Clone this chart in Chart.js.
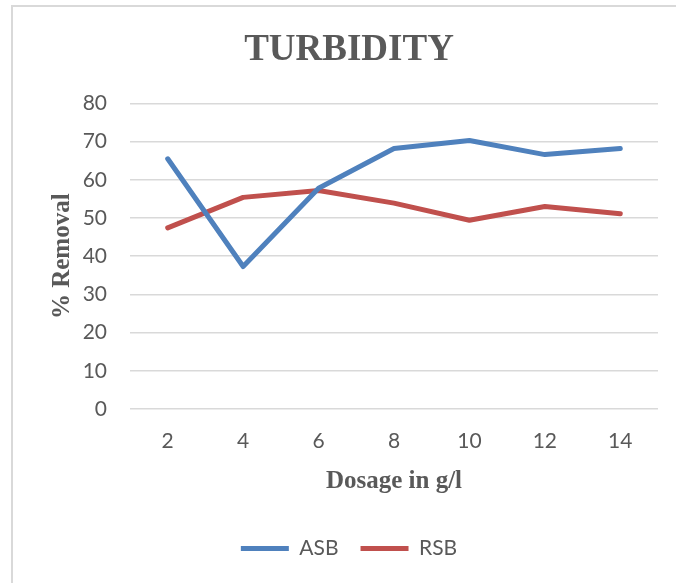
<!DOCTYPE html>
<html>
<head>
<meta charset="utf-8">
<script src="https://cdn.jsdelivr.net/npm/chart.js@4.4.0/dist/chart.umd.min.js"></script>
<style>
  html, body { margin: 0; padding: 0; background: #fff; }
  #wrap { position: relative; width: 676px; height: 583px; overflow: hidden; }
  #frame { position: absolute; left: 11px; top: 5px; width: 700px; height: 600px; border: 2px solid #D9D9D9; box-sizing: border-box; }
  canvas { position: absolute; left: 0; top: 0; }
</style>
</head>
<body>
<div id="wrap">
  <div id="frame"></div>
  <canvas id="c" width="676" height="583"></canvas>
</div>
<script>
const categories = ['2', '4', '6', '8', '10', '12', '14'];
const asbValues = [65.5, 37.3, 57.8, 68.2, 70.3, 66.6, 68.2];
const rsbValues = [47.4, 55.4, 57.2, 53.9, 49.4, 53.0, 51.1];
const seriesNames = ['ASB', 'RSB'];
const chartTitle = 'TURBIDITY';
const xTitle = 'Dosage in g/l';
const yTitle = '% Removal';

const textColor = '#595959';
const sansFont = "Lato, 'Liberation Sans', sans-serif";
const serifFont = "'Liberation Serif', 'Times New Roman', serif";

new Chart(document.getElementById('c'), {
  type: 'line',
  data: {
    labels: categories,
    datasets: [
      { label: seriesNames[0], data: asbValues, borderColor: '#4F81BD', backgroundColor: '#4F81BD',
        borderWidth: 5, pointRadius: 0, borderCapStyle: 'round', borderJoinStyle: 'round', tension: 0 },
      { label: seriesNames[1], data: rsbValues, borderColor: '#C0504D', backgroundColor: '#C0504D',
        borderWidth: 5, pointRadius: 0, borderCapStyle: 'round', borderJoinStyle: 'round', tension: 0 }
    ]
  },
  options: {
    responsive: false,
    animation: false,
    layout: { padding: { left: 40, right: 18, top: 0, bottom: 14 } },
    plugins: {
      title: {
        display: true, text: chartTitle, color: textColor,
        font: { family: serifFont, size: 37, weight: 'bold' },
        padding: { top: 28, bottom: 31 }
      },
      legend: {
        position: 'bottom',
        labels: {
          color: textColor, font: { family: sansFont, size: 21 },
          usePointStyle: true, pointStyle: 'line', pointStyleWidth: 48, boxHeight: 5,
          padding: 22
        }
      },
      tooltip: { enabled: false }
    },
    scales: {
      x: {
        offset: true,
        grid: { display: false },
        border: { display: false },
        ticks: { color: textColor, font: { family: sansFont, size: 21 }, padding: 12 },
        title: { display: true, text: xTitle, color: textColor,
          font: { family: serifFont, size: 25, weight: 'bold' }, padding: { top: 8, bottom: 19 } },
        afterFit: (s) => { s.height = 107; }
      },
      y: {
        min: 0, max: 80,
        grid: { color: '#D9D9D9', lineWidth: 1.5, drawTicks: false },
        border: { display: false },
        ticks: { stepSize: 10, color: textColor, font: { family: sansFont, size: 21 }, padding: 23 },
        title: { display: true, text: yTitle, color: textColor,
          font: { family: serifFont, size: 25, weight: 'bold' }, padding: { top: 8, bottom: 0 } },
        afterFit: (s) => { s.width = 90; }
      }
    }
  }
});
</script>
</body>
</html>
